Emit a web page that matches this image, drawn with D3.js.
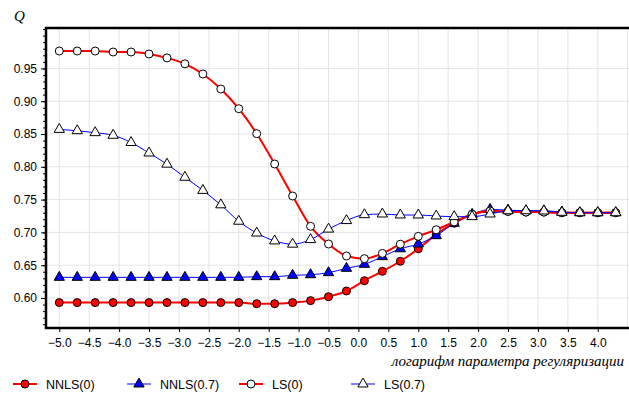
<!DOCTYPE html>
<html>
<head>
<meta charset="utf-8">
<script src="https://cdn.jsdelivr.net/npm/d3@7"></script>
<style>
  body { margin: 0; background: #fff; }
  svg { display: block; }
</style>
</head>
<body>
<div id="chart"></div>
<script>
// ── Data ────────────────────────────────────────────────────────────────────
const logLambda = [-5.0, -4.7, -4.4, -4.1, -3.8, -3.5, -3.2, -2.9, -2.6, -2.3, -2.0, -1.7, -1.4, -1.1, -0.8, -0.5,
  -0.2, 0.1, 0.4, 0.7, 1.0, 1.3, 1.6, 1.9, 2.2, 2.5, 2.8, 3.1, 3.4, 3.7, 4.0, 4.3]

const nnls0 = [0.593, 0.593, 0.593, 0.593, 0.593, 0.593, 0.593, 0.593, 0.593, 0.593, 0.593, 0.5913, 0.5913, 0.593, 0.596, 0.602,
  0.6107, 0.6264, 0.6407, 0.656, 0.675, 0.697, 0.714, 0.7276, 0.732, 0.732, 0.731, 0.731, 0.730, 0.730, 0.730, 0.730]
const nnls07 = [0.6315, 0.6315, 0.6315, 0.6315, 0.6315, 0.6315, 0.6315, 0.6315, 0.6315, 0.6315, 0.6315, 0.6325, 0.6325, 0.6346, 0.6355, 0.6386,
  0.6452, 0.6513, 0.663, 0.675, 0.6823, 0.695, 0.714, 0.7276, 0.735, 0.734, 0.733, 0.733, 0.731, 0.730, 0.730, 0.730]
const ls0 = [0.9765, 0.9765, 0.9765, 0.975, 0.975, 0.972, 0.966, 0.957, 0.9415, 0.9186, 0.8886, 0.8505, 0.8043, 0.7555, 0.7093, 0.6823,
  0.664, 0.660, 0.668, 0.682, 0.694, 0.704, 0.716, 0.7276, 0.7326, 0.732, 0.731, 0.731, 0.730, 0.730, 0.730, 0.730]
const ls07 = [0.857, 0.855, 0.852, 0.848, 0.837, 0.821, 0.804, 0.784, 0.764, 0.742, 0.717, 0.699, 0.687, 0.682, 0.689, 0.705,
  0.718, 0.727, 0.728, 0.7265, 0.7265, 0.725, 0.724, 0.724, 0.728, 0.733, 0.733, 0.7326, 0.7306, 0.730, 0.730, 0.730]

const seriesNames = ['NNLS(0)', 'NNLS(0.7)', 'LS(0)', 'LS(0.7)']
const xTicks = d3.range(-5, 4.01, 0.5)
const xGrid = d3.range(-5, 4.51, 0.5)
const yTicks = [0.60, 0.65, 0.70, 0.75, 0.80, 0.85, 0.90, 0.95]
const yMinor = d3.range(0.56, 1.011, 0.01)

// ── Layout ──────────────────────────────────────────────────────────────────
const W = 629, H = 396
const L = 46, T = 28, B = 328, R = 640

const x = d3.scaleLinear().domain([-5.222, 4.706]).range([L, R])
const y = d3.scaleLinear().domain([0.55427, 1.0116]).range([B, T])

const svg = d3.select('#chart').append('svg').attr('width', W).attr('height', H)

const styles = [
  { values: nnls0, line: '#ff0000', lw: 2, marker: 'circle', fill: '#ff0000' },
  { values: nnls07, line: '#0000ff', lw: 1, marker: 'triangle', fill: '#0000ff' },
  { values: ls0, line: '#ff0000', lw: 2, marker: 'circle', fill: '#ffffff' },
  { values: ls07, line: '#0000ff', lw: 1, marker: 'triangle', fill: '#ffffff' },
]

// grid
const grid = svg.append('g')
grid.selectAll('line.v').data(xGrid).join('line')
  .attr('x1', d => x(d)).attr('x2', d => x(d)).attr('y1', T).attr('y2', B)
  .attr('stroke', '#e4e4e4').attr('stroke-width', 1)
grid.selectAll('line.h').data(yTicks).join('line')
  .attr('x1', L).attr('x2', R).attr('y1', d => y(d)).attr('y2', d => y(d))
  .attr('stroke', '#e4e4e4').attr('stroke-width', 1)

// axes
const yMinorAxis = d3.axisLeft(y).tickValues(yMinor).tickSize(3).tickFormat('')
svg.append('g').attr('transform', `translate(${L},0)`).call(yMinorAxis)
  .call(g => g.select('.domain').remove())
const yAxis = d3.axisLeft(y).tickValues(yTicks).tickSize(5).tickPadding(4).tickFormat(d3.format('.2f'))
svg.append('g').attr('transform', `translate(${L},0)`).call(yAxis)
  .call(g => g.select('.domain').remove())
  .call(g => g.selectAll('text').attr('fill', '#000').style('font', '12px "Liberation Sans", Arial, sans-serif'))

const xAxis = d3.axisBottom(x).tickValues(xTicks).tickSize(4).tickPadding(6).tickFormat(d3.format('.1f'))
svg.append('g').attr('transform', `translate(0,${B})`).call(xAxis)
  .call(g => g.select('.domain').remove())
  .call(g => g.selectAll('text').attr('fill', '#000').style('font', '12px "Liberation Sans", Arial, sans-serif'))

// frame
svg.append('path')
  .attr('d', `M${R},${T}H${L}V${B}H${R}`)
  .attr('fill', 'none').attr('stroke', '#000').attr('stroke-width', 2.5)

// series
const tri = d3.symbol().type(d3.symbolTriangle).size(46)
const line = d3.line().x(d => x(d[0])).y(d => y(d[1])).curve(d3.curveMonotoneX)

styles.forEach(s => {
  const pts = logLambda.map((v, i) => [v, s.values[i]])
  svg.append('path').datum(pts).attr('d', line)
    .attr('fill', 'none').attr('stroke', s.line).attr('stroke-width', s.lw)
  const g = svg.append('g')
  if (s.marker === 'circle') {
    g.selectAll('circle').data(pts).join('circle')
      .attr('cx', d => x(d[0])).attr('cy', d => y(d[1])).attr('r', 4)
      .attr('fill', s.fill).attr('stroke', '#000').attr('stroke-width', 1)
  } else {
    g.selectAll('path').data(pts).join('path')
      .attr('d', tri).attr('transform', d => `translate(${x(d[0])},${y(d[1])})`)
      .attr('fill', s.fill).attr('stroke', '#000').attr('stroke-width', 1)
  }
})

// axis titles
svg.append('text').attr('x', 14).attr('y', 21).text('Q')
  .style('font', 'italic 15px "Liberation Serif", "Times New Roman", serif')
svg.append('text').attr('x', 624).attr('y', 366).attr('text-anchor', 'end').text('логарифм параметра регуляризации')
  .style('font', 'italic 15px "Liberation Serif", "Times New Roman", serif')

// legend
const legX = [13, 127, 239, 351]
const leg = svg.append('g').attr('transform', `translate(0,384)`)
styles.forEach((s, i) => {
  const x0 = legX[i]
  leg.append('line').attr('x1', x0).attr('x2', x0 + 24).attr('y1', 0).attr('y2', 0)
    .attr('stroke', s.line).attr('stroke-width', s.lw)
  if (s.marker === 'circle') {
    leg.append('circle').attr('cx', x0 + 12).attr('cy', 0).attr('r', 4)
      .attr('fill', s.fill).attr('stroke', '#000')
  } else {
    leg.append('path').attr('d', tri).attr('transform', `translate(${x0 + 12},0)`)
      .attr('fill', s.fill).attr('stroke', '#000')
  }
  leg.append('text').attr('x', x0 + 33).attr('y', 5).text(seriesNames[i])
    .style('font', '12.5px "Liberation Sans", Arial, sans-serif')
})
</script>
</body>
</html>
